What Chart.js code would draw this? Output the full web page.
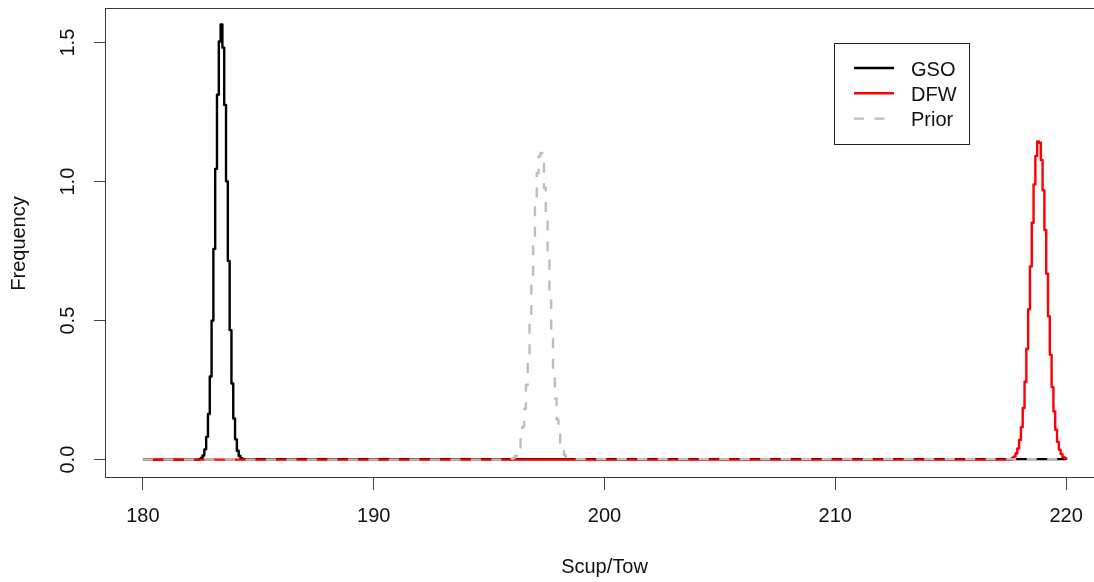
<!DOCTYPE html>
<html>
<head>
<meta charset="utf-8">
<script src="https://cdn.jsdelivr.net/npm/chart.js@4/dist/chart.umd.min.js"></script>
<style>
  html, body { margin: 0; padding: 0; background: #fff; overflow: hidden; }
  #wrap { width: 1110px; height: 582px; }
</style>
</head>
<body>
<div id="wrap"><canvas id="c" width="1110" height="582"></canvas></div>
<script>
// ---- data ----
const seriesNames = ["GSO", "DFW", "Prior"];

const gsoX = [180, 182.427, 182.505, 182.583, 182.661, 182.740, 182.818, 182.896, 182.975, 183.053, 183.131, 183.209, 183.288, 183.366, 183.444, 183.523, 183.601, 183.679, 183.757, 183.836, 183.914, 183.992, 184.071, 184.149, 184.227, 184.305, 220];
const gsoY = [0, 0.002, 0.006, 0.015, 0.037, 0.082, 0.164, 0.299, 0.500, 0.758, 1.046, 1.313, 1.504, 1.565, 1.482, 1.276, 1.001, 0.715, 0.466, 0.274, 0.148, 0.073, 0.032, 0.013, 0.005, 0.002, 0];

const dfwX = [180, 217.652, 217.730, 217.808, 217.886, 217.965, 218.043, 218.121, 218.200, 218.278, 218.356, 218.434, 218.513, 218.591, 218.669, 218.748, 218.826, 218.904, 218.982, 219.061, 219.139, 219.217, 219.295, 219.374, 219.452, 219.530, 219.609, 219.687, 219.765, 219.843, 219.922, 220.000];
const dfwY = [0, 0.006, 0.011, 0.022, 0.040, 0.071, 0.117, 0.186, 0.280, 0.399, 0.541, 0.695, 0.852, 0.990, 1.092, 1.145, 1.140, 1.078, 0.969, 0.826, 0.669, 0.516, 0.377, 0.261, 0.173, 0.108, 0.064, 0.036, 0.020, 0.010, 0.005, 0.002];

const priorX = [180, 195.890, 195.969, 196.047, 196.125, 196.204, 196.282, 196.360, 196.438, 196.517, 196.595, 196.673, 196.751, 196.830, 196.908, 196.986, 197.065, 197.143, 197.221, 197.299, 197.378, 197.456, 197.534, 197.613, 197.691, 197.769, 197.847, 197.926, 198.004, 198.082, 198.160, 198.239, 198.317, 198.395, 198.474, 220];
const priorY = [0, 0.002, 0.003, 0.007, 0.013, 0.024, 0.043, 0.073, 0.118, 0.183, 0.269, 0.379, 0.508, 0.652, 0.795, 0.926, 1.030, 1.091, 1.103, 1.064, 0.978, 0.858, 0.718, 0.572, 0.436, 0.317, 0.220, 0.145, 0.091, 0.055, 0.032, 0.017, 0.009, 0.005, 0.002, 0];

const xTicks = [180, 190, 200, 210, 220];
const yTicks = [0, 0.5, 1.0, 1.5];
const xTitle = "Scup/Tow";
const yTitle = "Frequency";

// ---- chart ----
const FONT = '"Liberation Sans", Arial, Helvetica, sans-serif';
const pts = (xs, ys) => xs.map((x, i) => ({ x: x, y: ys[i] }));

const boxPlugin = {
  id: 'rbox',
  afterDraw(chart) {
    const { ctx, chartArea: a } = chart;
    ctx.save();
    ctx.strokeStyle = '#3a3a3a';
    ctx.lineWidth = 1;
    ctx.strokeRect(a.left - 0.5, a.top - 0.5, a.right - a.left + 1, a.bottom - a.top);
    // legend box
    const lx = 834.5, ly = 43.5, lw = 135, lh = 101;
    ctx.fillStyle = '#fff';
    ctx.fillRect(lx, ly, lw, lh);
    ctx.strokeStyle = '#222';
    ctx.strokeRect(lx, ly, lw, lh);
    const rows = [68, 93.3, 118.6];
    chart.data.datasets.forEach((ds, i) => {
      const y = rows[i];
      ctx.beginPath();
      ctx.setLineDash(ds.borderDash || []);
      ctx.strokeStyle = ds.borderColor;
      ctx.lineWidth = ds.borderWidth;
      ctx.moveTo(854, y);
      ctx.lineTo(894, y);
      ctx.stroke();
      ctx.setLineDash([]);
      ctx.fillStyle = '#111';
      ctx.font = '20px ' + FONT;
      ctx.textBaseline = 'middle';
      ctx.textAlign = 'left';
      ctx.fillText(ds.label, 911, y + 2);
    });
    ctx.restore();
  }
};

new Chart(document.getElementById('c'), {
  type: 'line',
  data: {
    datasets: [
      { label: seriesNames[0], data: pts(gsoX, gsoY), borderColor: '#000000', borderWidth: 2.4, order: 3 },
      { label: seriesNames[1], data: pts(dfwX, dfwY), borderColor: '#ff0000', borderWidth: 2.4, order: 2 },
      { label: seriesNames[2], data: pts(priorX, priorY), borderColor: '#bebebe', borderWidth: 2.4, borderDash: [10, 10.5], order: 1 }
    ]
  },
  options: {
    responsive: false,
    animation: false,
    devicePixelRatio: 1,
    layout: { padding: { left: 0, top: 9, right: 7, bottom: 0 } },
    elements: {
      point: { radius: 0, hoverRadius: 0 },
      line: { tension: 0, stepped: 'before', fill: false, borderCapStyle: 'butt', borderJoinStyle: 'round' }
    },
    plugins: { legend: { display: false }, tooltip: { enabled: false } },
    scales: {
      x: {
        type: 'linear',
        min: 178.4, max: 221.6,
        afterBuildTicks: s => { s.ticks = xTicks.map(v => ({ value: v })); },
        afterFit: s => { s.height = 104; s.paddingLeft = 0; s.paddingRight = 0; },
        border: { display: false },
        grid: { display: true, drawOnChartArea: false, drawTicks: true, tickLength: 12, color: '#444', lineWidth: 1 },
        ticks: { font: { family: FONT, size: 20 }, color: '#111', padding: 14, maxRotation: 0, autoSkip: false,
                 callback: v => String(v) },
        title: { display: true, text: xTitle, font: { family: FONT, size: 20 }, color: '#111', padding: { top: 0, bottom: 3 } }
      },
      y: {
        type: 'linear',
        min: -0.066, max: 1.621,
        afterBuildTicks: s => { s.ticks = yTicks.map(v => ({ value: v })); },
        afterFit: s => { s.width = 106; s.paddingTop = 0; s.paddingBottom = 0; },
        border: { display: false },
        grid: { display: true, drawOnChartArea: false, drawTicks: true, tickLength: 12, color: '#444', lineWidth: 1 },
        ticks: { font: { family: FONT, size: 20 }, color: '#111', padding: 12, minRotation: 90, maxRotation: 90,
                 crossAlign: 'center', autoSkip: false, callback: v => Number(v).toFixed(1) },
        title: { display: true, text: yTitle, font: { family: FONT, size: 20 }, color: '#111', padding: { top: 7.5, bottom: 0 } }
      }
    }
  },
  plugins: [boxPlugin]
});
</script>
</body>
</html>
